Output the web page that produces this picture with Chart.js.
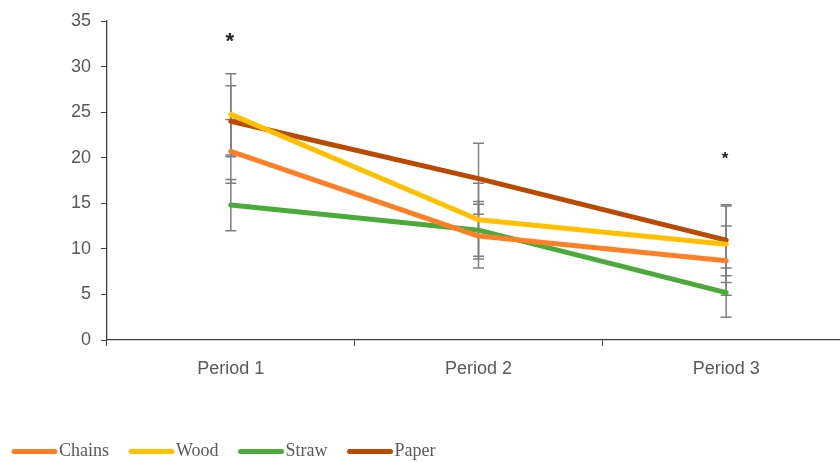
<!DOCTYPE html>
<html>
<head>
<meta charset="utf-8">
<script src="https://cdn.jsdelivr.net/npm/chart.js@4/dist/chart.umd.min.js"></script>
<style>
  html, body { margin: 0; padding: 0; background: #fff; overflow: hidden; width: 840px; height: 463px; }
  #wrap { position: relative; width: 850px; height: 463px; }
</style>
</head>
<body>
<div id="wrap"><canvas id="c" width="850" height="463"></canvas></div>
<script>
// ---- data ----
const categories = ['Period 1', 'Period 2', 'Period 3'];
const seriesNames = ['Chains', 'Wood', 'Straw', 'Paper'];
const chains = [20.7, 11.4, 8.7];
const wood   = [24.75, 13.2, 10.5];
const straw  = [14.8, 12.05, 5.2];
const paper  = [24.0, 17.7, 10.95];
const chainsErr = [3.5, 3.5, 3.8];
const woodErr   = [4.45, 4.0, 4.2];
const strawErr  = [2.8, 3.15, 2.7];
const paperErr  = [3.9, 3.9, 3.9];
const sigCategories = [0, 2];
const sigValues = [33.2, 20.2];
const sigSizes = [22, 17];
const yTicks = [0, 5, 10, 15, 20, 25, 30, 35];

const colors = ['#FF7F27', '#FFC000', '#4AAA3A', '#B94A00'];
const seriesValues = [chains, wood, straw, paper];
const seriesErrors = [chainsErr, woodErr, strawErr, paperErr];
const grey = '#595959';

const errorBars = {
  id: 'errorBars',
  beforeDatasetsDraw(chart) {
    const ctx = chart.ctx, x = chart.scales.x, y = chart.scales.y;
    ctx.save();
    ctx.strokeStyle = '#7F7F7F';
    ctx.lineWidth = 1.5;
    seriesValues.forEach((vals, s) => {
      vals.forEach((v, i) => {
        const px = x.getPixelForValue(i);
        const e = seriesErrors[s][i];
        const top = y.getPixelForValue(v + e), bot = y.getPixelForValue(v - e);
        ctx.beginPath();
        ctx.moveTo(px, top); ctx.lineTo(px, bot);
        ctx.moveTo(px - 5.5, top); ctx.lineTo(px + 5.5, top);
        ctx.moveTo(px - 5.5, bot); ctx.lineTo(px + 5.5, bot);
        ctx.stroke();
      });
    });
    ctx.restore();
  },
  afterDraw(chart) {
    const ctx = chart.ctx, x = chart.scales.x, y = chart.scales.y;
    ctx.save();
    // significance asterisks
    ctx.fillStyle = '#222';
    ctx.textAlign = 'center';
    ctx.textBaseline = 'middle';
    sigCategories.forEach((c, k) => {
      ctx.font = 'bold ' + sigSizes[k] + 'px "Liberation Sans", sans-serif';
      ctx.fillText('*', x.getPixelForValue(c) - 1, y.getPixelForValue(sigValues[k]) + sigSizes[k] * 0.22);
    });
    // legend
    let lx = 12;
    const ly = 451.5;
    ctx.font = '18px "Liberation Serif", serif';
    ctx.textAlign = 'left';
    ctx.textBaseline = 'middle';
    seriesNames.forEach((name, s) => {
      ctx.strokeStyle = colors[s];
      ctx.lineWidth = 5;
      ctx.lineCap = 'round';
      ctx.beginPath();
      ctx.moveTo(lx + 2, ly); ctx.lineTo(lx + 43, ly);
      ctx.stroke();
      ctx.fillStyle = grey;
      ctx.fillText(name, lx + 47, ly);
      lx += 47 + ctx.measureText(name).width + 20;
    });
    ctx.restore();
  }
};

new Chart(document.getElementById('c'), {
  type: 'line',
  data: {
    labels: categories,
    datasets: seriesNames.map((n, s) => ({
      label: n,
      data: seriesValues[s],
      borderColor: colors[s],
      backgroundColor: colors[s],
      borderWidth: 5,
      pointRadius: 0,
      tension: 0,
      borderCapStyle: 'round',
      borderJoinStyle: 'round'
    }))
  },
  options: {
    responsive: false,
    animation: false,
    layout: { padding: { top: 21, right: 0, bottom: 0, left: 0 } },
    plugins: { legend: { display: false }, tooltip: { enabled: false } },
    scales: {
      x: {
        offset: true,
        grid: { display: true, drawOnChartArea: false, drawTicks: true, tickLength: 6, color: '#404040', lineWidth: 1, offset: true },
        border: { display: true, color: '#404040', width: 1.3 },
        ticks: { color: grey, font: { family: '"Liberation Sans", sans-serif', size: 18 }, padding: 12 },
        afterFit(s) { s.height = 123; }
      },
      y: {
        min: 0, max: 35,
        afterBuildTicks(s) { s.ticks = yTicks.map(v => ({ value: v })); },
        grid: { display: true, drawOnChartArea: false, drawTicks: true, tickLength: 6, color: '#404040' },
        border: { display: true, color: '#404040', width: 1.3 },
        ticks: { color: grey, font: { family: '"Liberation Sans", sans-serif', size: 18 }, padding: 10 },
        afterFit(s) { s.width = 107; }
      }
    }
  },
  plugins: [errorBars]
});
</script>
</body>
</html>
